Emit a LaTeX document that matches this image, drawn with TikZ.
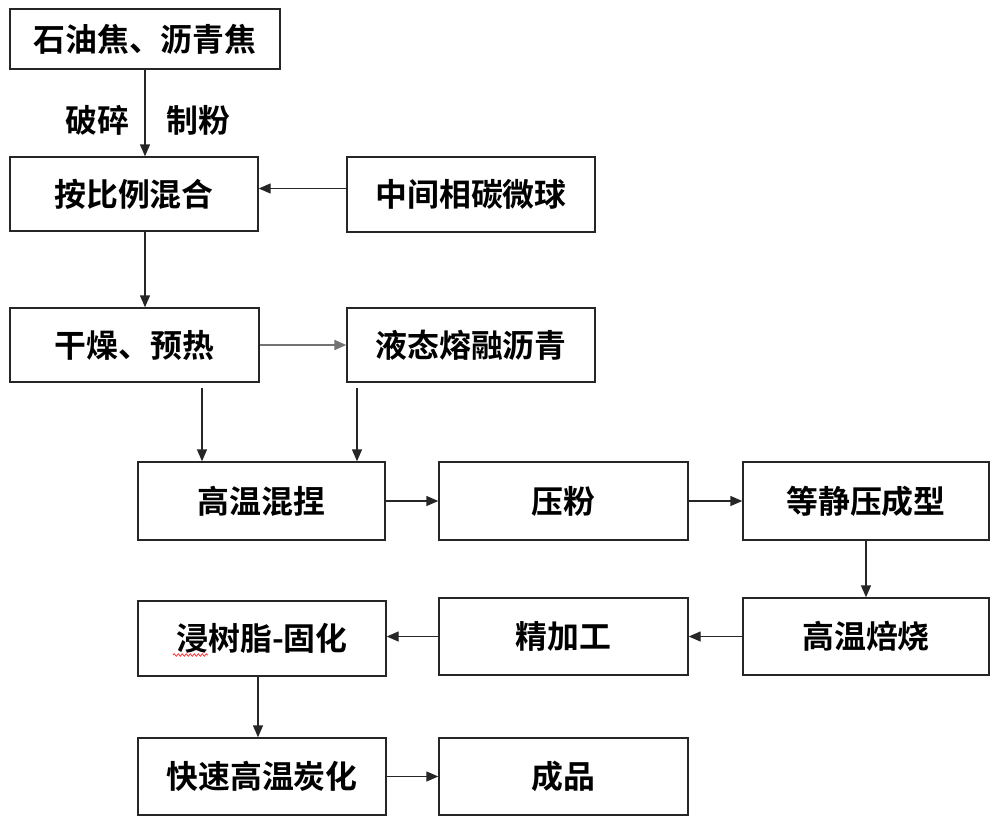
\documentclass[tikz,border=0pt]{standalone}
\usepackage{fontspec}
\newfontfamily\cjk{Noto Sans CJK SC Bold}
\usetikzlibrary{arrows.meta,decorations.pathmorphing}
\begin{document}
\begin{tikzpicture}[x=1bp,y=-1bp,
  box/.style={draw=black!85,line width=1.4bp,inner sep=0pt,
    font=\cjk\fontsize{32}{32}\selectfont},
  conn/.style={draw=black!85,line width=1.4bp,-{Triangle[length=12bp,width=10bp]}},
  lbl/.style={inner sep=0pt,font=\cjk\fontsize{32}{32}\selectfont}]
\useasboundingbox (0,0) rectangle (1000,823);
\fill[white] (0,0) rectangle (1000,823);

\node[box,minimum width=270bp,minimum height=60bp] (b1) at (145,39) {石油焦、沥青焦};
\node[box,minimum width=248bp,minimum height=74bp] (b2) at (134,194) {按比例混合};
\node[box,minimum width=248bp,minimum height=75bp] (b3) at (471,194.5) {中间相碳微球};
\node[box,minimum width=249bp,minimum height=74bp] (b4) at (134.5,345) {干燥、预热};
\node[box,minimum width=248bp,minimum height=74bp] (b5) at (471,345) {液态熔融沥青};
\node[box,minimum width=247bp,minimum height=78bp] (b6) at (261.5,501) {高温混捏};
\node[box,minimum width=249bp,minimum height=78bp] (b7) at (563.5,501) {压粉};
\node[box,minimum width=246bp,minimum height=78bp] (b8) at (866,501) {等静压成型};
\node[box,minimum width=248bp,minimum height=75bp] (b9) at (262,638.5) {浸树脂-固化};
\node[box,minimum width=249bp,minimum height=77bp] (b10) at (563.5,636.5) {精加工};
\node[box,minimum width=246bp,minimum height=77bp] (b11) at (866,636.5) {高温焙烧};
\node[box,minimum width=248bp,minimum height=77bp] (b12) at (262,776.5) {快速高温炭化};
\node[box,minimum width=249bp,minimum height=77bp] (b13) at (563.5,776.5) {成品};

\node[lbl] (l1) at (97,120) {破碎};
\node[lbl] (l2) at (198,120) {制粉};

\coordinate (c1) at (202,388);
\coordinate (c2) at (357,388);

\draw[conn] (b1.south) -- (b1.south |- b2.north);
\draw[conn] ([yshift=6bp]b3.west) -- ([yshift=6bp]b3.west -| b2.east);
\draw[conn] (b1.south |- b2.south) -- (b1.south |- b4.north);
\draw[conn,draw=black!55,line width=2bp] (b4.east) -- (b5.west);
\draw[conn] (c1) -- (c1 |- b6.north);
\draw[conn] (c2) -- (c2 |- b6.north);
\draw[conn] (b6.east) -- (b7.west);
\draw[conn] (b7.east) -- (b8.west);
\draw[conn] (b8.south) -- (b11.north);
\draw[conn] (b11.west) -- (b10.east);
\draw[conn] (b10.west) -- (b10.west -| b9.east);
\draw[conn] ([xshift=-4bp]b9.south) -- ([xshift=-4bp]b12.north);
\draw[conn] (b12.east) -- (b13.west);

\draw[red!80,line width=0.8bp,decorate,decoration={snake,amplitude=1.2bp,segment length=4bp}] (173,655) -- (208,655);
\end{tikzpicture}
\end{document}
